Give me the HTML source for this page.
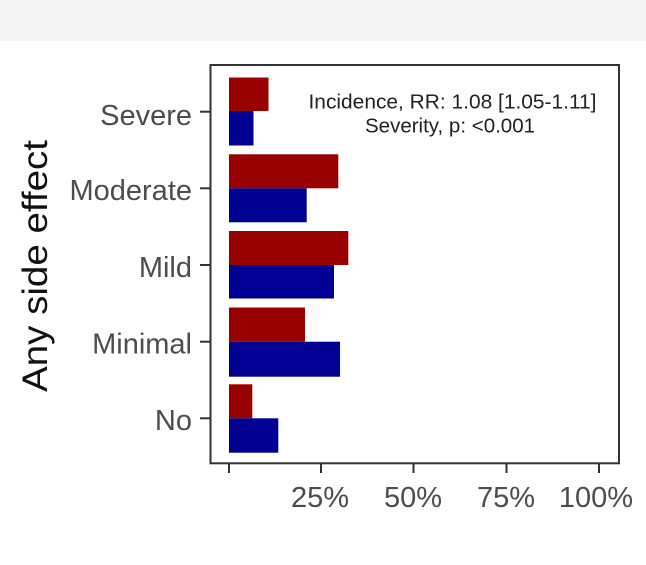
<!DOCTYPE html>
<html>
<head>
<meta charset="utf-8">
<style>
  html,body{margin:0;padding:0;background:#fff;}
  body{width:646px;height:560px;overflow:hidden;}
</style>
</head>
<body>
<svg width="646" height="560" viewBox="0 0 646 560" xmlns="http://www.w3.org/2000/svg" font-family="'Liberation Sans', Arial, sans-serif">
  <rect x="0" y="0" width="646" height="560" fill="#ffffff"/>
  <rect x="0" y="0" width="646" height="41" fill="#f5f5f5"/>

  <!-- bars -->
  <g>
    <rect x="229" y="77.5" width="39.5" height="33.5" fill="#990000"/>
    <rect x="229" y="111" width="24.5" height="34.5" fill="#000092"/>

    <rect x="229" y="154.3" width="109.3" height="34" fill="#990000"/>
    <rect x="229" y="188.3" width="77.7" height="34" fill="#000092"/>

    <rect x="229" y="231" width="119.3" height="34" fill="#990000"/>
    <rect x="229" y="265" width="105" height="33.5" fill="#000092"/>

    <rect x="229" y="307.5" width="76" height="34.2" fill="#990000"/>
    <rect x="229" y="341.7" width="111" height="35" fill="#000092"/>

    <rect x="229" y="384.3" width="23.3" height="34" fill="#990000"/>
    <rect x="229" y="418.3" width="49.3" height="34.4" fill="#000092"/>
  </g>

  <!-- panel border -->
  <rect x="210.5" y="65" width="408.5" height="398.3" fill="none" stroke="#333" stroke-width="2"/>

  <!-- y ticks -->
  <g stroke="#333" stroke-width="2">
    <line x1="200" y1="111.7" x2="210" y2="111.7"/>
    <line x1="200" y1="188.3" x2="210" y2="188.3"/>
    <line x1="200" y1="265" x2="210" y2="265"/>
    <line x1="200" y1="341.7" x2="210" y2="341.7"/>
    <line x1="200" y1="418.3" x2="210" y2="418.3"/>
  </g>
  <!-- x ticks -->
  <g stroke="#333" stroke-width="2">
    <line x1="229" y1="463" x2="229" y2="473"/>
    <line x1="321" y1="463" x2="321" y2="473"/>
    <line x1="413.5" y1="463" x2="413.5" y2="473"/>
    <line x1="506.5" y1="463" x2="506.5" y2="473"/>
    <line x1="599" y1="463" x2="599" y2="473"/>
  </g>

  <!-- y labels -->
  <g fill="#4d4d4d" font-size="29" text-anchor="end">
    <text x="192" y="125">Severe</text>
    <text x="192" y="200">Moderate</text>
    <text x="192" y="277">Mild</text>
    <text x="192" y="353.5">Minimal</text>
    <text x="192" y="430">No</text>
  </g>

  <!-- x labels -->
  <g fill="#4d4d4d" font-size="29" text-anchor="middle">
    <text x="320" y="507">25%</text>
    <text x="413" y="507">50%</text>
    <text x="506" y="507">75%</text>
    <text x="596" y="507">100%</text>
  </g>

  <!-- y title -->
  <text transform="translate(47,266) rotate(-90)" text-anchor="middle" font-size="35" fill="#111" textLength="252" lengthAdjust="spacingAndGlyphs">Any side effect</text>

  <!-- annotation -->
  <g fill="#222" font-size="20" text-anchor="middle">
    <text x="452.5" y="108.3" textLength="288" lengthAdjust="spacingAndGlyphs">Incidence, RR: 1.08 [1.05-1.11]</text>
    <text x="450" y="132.7" textLength="170" lengthAdjust="spacingAndGlyphs">Severity, p: &lt;0.001</text>
  </g>
</svg>
</body>
</html>
